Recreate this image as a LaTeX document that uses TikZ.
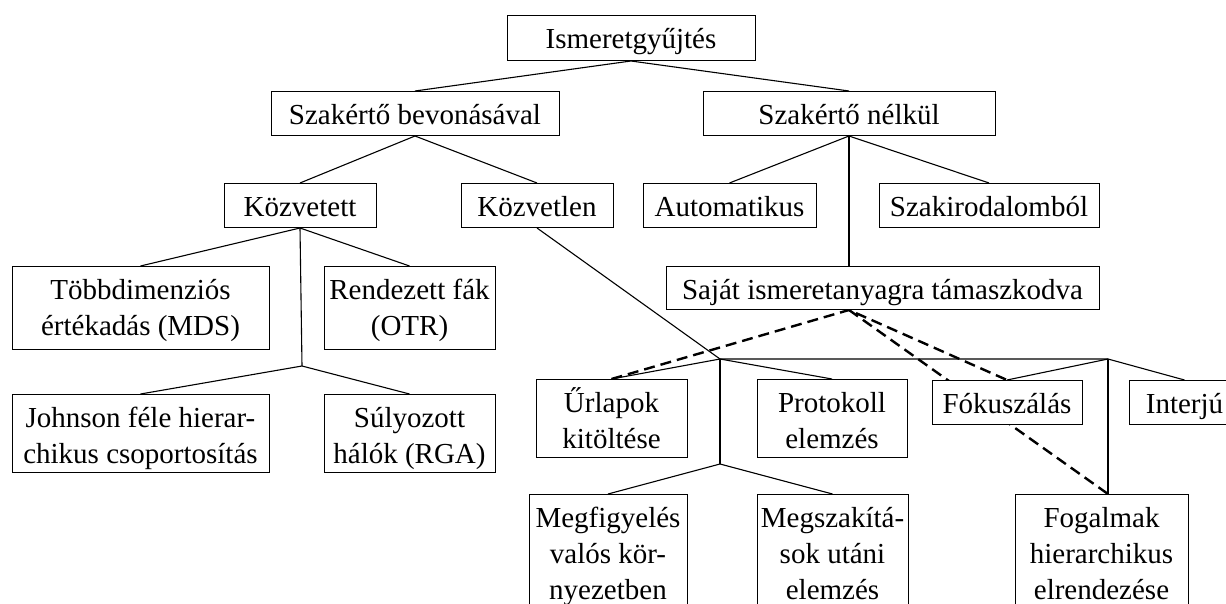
\documentclass[tikz,border=0pt]{standalone}
\usepackage{fontspec}
\setmainfont{Liberation Serif}
\usepackage{tikz}
\tikzset{
  box/.style   = {draw, fill=white, line width=1pt, inner xsep=0pt, inner ysep=9pt, align=center, anchor=north, text height=24pt, font=\fontsize{29pt}{36pt}\selectfont},
  two/.style   = {text height=60pt, text depth=#1},
  three/.style = {text height=96pt, text depth=#1},
  conn/.style  = {line width=1.1pt},
  dconn/.style = {line width=2.4pt, dash pattern=on 11pt off 6pt},
}
\pgfdeclarelayer{back}
\pgfsetlayers{back,main}

\begin{document}
\begin{tikzpicture}[x=1pt,y=-1pt]
\useasboundingbox (0,0) rectangle (1226,604);
\node[box, minimum width=248pt, text depth=3pt] (ism) at (631,15) {Ismeretgyűjtés};
\node[box, minimum width=288pt, text depth=2pt] (szb) at (415,91) {Szakértő bevonásával};
\node[box, minimum width=292pt, text depth=2pt] (szn) at (849,91) {Szakértő nélkül};
\node[box, minimum width=152pt, text depth=2pt] (kozt) at (300,183) {Közvetett};
\node[box, minimum width=152pt, text depth=2pt] (kozl) at (537,183) {Közvetlen};
\node[box, minimum width=173pt, text depth=2pt] (auto) at (729.5,183) {Automatikus};
\node[box, minimum width=220pt, text depth=2pt] (szir) at (989,183) {Szakirodalomból};
\node[box, minimum width=433pt, text depth=1pt] (sajat) at (882.5,266) {Saját ismeretanyagra támaszkodva};
\node[box, minimum width=257pt, two=5pt] (tobb) at (140.5,266) {Többdimenziós\\értékadás (MDS)};
\node[box, minimum width=171pt, two=5pt] (rend) at (409.5,266) {Rendezett fák\\(OTR)};
\node[box, minimum width=257pt, two=-3pt] (john) at (140.5,394) {Johnson féle hierar-\\chikus csoportosítás};
\node[box, minimum width=171pt, two=-3pt] (suly) at (409.5,394) {Súlyozott\\hálók (RGA)};
\node[box, minimum width=151pt, two=-3pt] (url) at (611.5,379) {Űrlapok\\kitöltése};
\node[box, minimum width=150pt, two=-3pt] (prot) at (832,379) {Protokoll\\elemzés};
\node[box, minimum width=150pt, text depth=2pt] (foku) at (1007,380) {Fókuszálás};
\node[box, minimum width=111pt, text depth=2pt] (intj) at (1184.5,380) {Interjú};
\node[box, minimum width=158pt, three=11pt] (megf) at (608,494) {Megfigyelés\\valós kör-\\nyezetben};
\node[box, minimum width=151pt, three=11pt] (megsz) at (832.5,494) {Megszakítá-\\sok utáni\\elemzés};
\node[box, minimum width=173pt, three=11pt] (fog) at (1101.5,494) {Fogalmak\\hierarchikus\\elrendezése};
\coordinate (kj) at (302,366);
\coordinate (j1) at (720,359);
\coordinate (j2) at (1108,359);
\coordinate (j3) at (720,464);
\coordinate (sv) at (szn.south |- sajat.south);
\coordinate (ft) at (j2 |- fog.north);
\begin{pgfonlayer}{back}
\draw[conn] (szb.north) -- (ism.south) -- (szn.north);
\draw[conn] (kozt.north) -- (szb.south) -- (kozl.north);
\draw[conn] (auto.north) -- (szn.south) -- (szir.north);
\draw[conn] (szn.south) -- (szn.south |- sajat.north);
\draw[conn] (tobb.north) -- (kozt.south) -- (rend.north);
\draw[conn] (kozt.south) -- (kj);
\draw[conn] (john.north) -- (kj) -- (suly.north);
\draw[conn] (kozl.south) -- (j1) -- (j2);
\draw[conn] (url.north) -- (j1) -- (prot.north);
\draw[conn] (j1) -- (j3);
\draw[conn] (megf.north) -- (j3) -- (megsz.north);
\draw[conn] (foku.north) -- (j2) -- (intj.north);
\draw[conn] (j2) -- (ft);
\draw[dconn] (url.north) -- (sv) -- (foku.north);
\draw[dconn] (sv) -- (ft);
\end{pgfonlayer}
\end{tikzpicture}
\end{document}
